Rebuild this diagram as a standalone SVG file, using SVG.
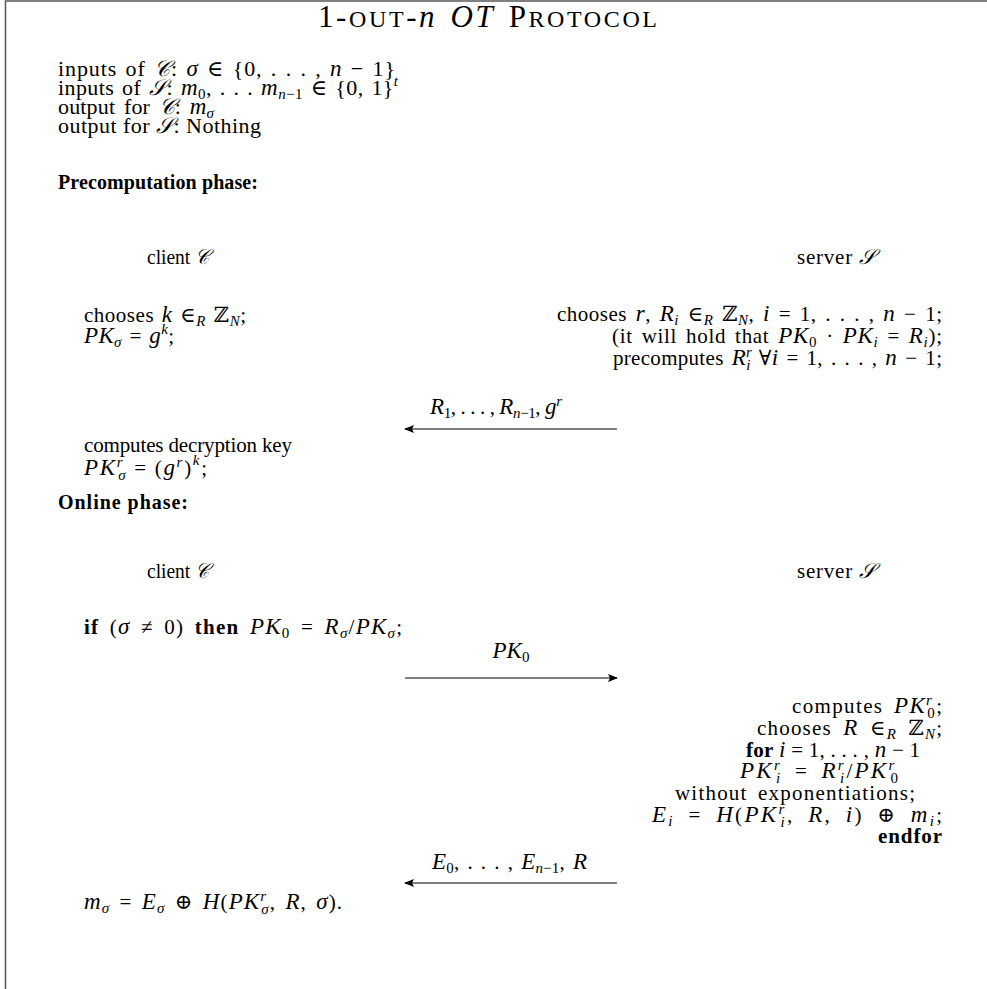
<svg xmlns="http://www.w3.org/2000/svg" width="987" height="989" viewBox="0 0 987 989">
<style>
text{font-family:"Liberation Serif","DejaVu Serif",serif;font-size:21px;fill:#000}
.big{font-size:22px}
.i{font-style:italic;font-size:23px}
.big .i{font-size:23px}
.b{font-weight:bold}
.h{font-weight:bold;font-size:20px}
.c{font-style:italic}
.sb{font-size:15px;font-style:italic}
.sn{font-size:15px}
.sc{font-size:24px}
.frame{stroke:#555;stroke-width:1.5;fill:none}
.arr{stroke:#000;stroke-width:1.2;fill:none}
</style>
<defs>
<marker id="ah" viewBox="0 0 10 8" refX="9" refY="4" markerWidth="10" markerHeight="8" markerUnits="userSpaceOnUse" orient="auto">
<path d="M0,0 L10,4 L0,8 L2,4 Z" fill="#000"/>
</marker>
</defs>
<rect width="987" height="989" fill="#fff"/>
<path class="frame" d="M5.5,989 V1 H987"/>

<g id="title">
<text x="318" y="27" textLength="339" lengthAdjust="spacing" style="font-size:31px;word-spacing:3px">1-<tspan class="sc">OUT</tspan>-<tspan style="font-style:italic">n</tspan> <tspan style="font-style:italic">OT</tspan> P<tspan class="sc">ROTOCOL</tspan></text>
</g>

<g id="inputs">
<text class="big" x="58" y="76" textLength="337" lengthAdjust="spacing" style="word-spacing:2px">inputs of <tspan class="c">𝒞</tspan>: <tspan class="i">σ</tspan> ∈ {0, . . . , <tspan class="i">n</tspan> − 1}</text>
<text class="big" x="58" y="95" textLength="340" lengthAdjust="spacing" style="word-spacing:2px">inputs of <tspan class="c">𝒮</tspan>: <tspan class="i">m</tspan><tspan class="sn" baseline-shift="-4">0</tspan>, . . . <tspan class="i">m</tspan><tspan class="sb" baseline-shift="-4">n</tspan><tspan class="sn" baseline-shift="-4">−1</tspan> ∈ {0, 1}<tspan class="sb" baseline-shift="9">t</tspan></text>
<text class="big" x="58" y="114" textLength="156" lengthAdjust="spacing" style="word-spacing:3px">output for <tspan class="c">𝒞</tspan>: <tspan class="i">m</tspan><tspan class="sb" baseline-shift="-4">σ</tspan></text>
<text class="big" x="58" y="133" textLength="203" lengthAdjust="spacing">output for <tspan class="c">𝒮</tspan>: Nothing</text>
</g>

<g id="precomp-label">
<text class="h" x="58" y="189" textLength="200" lengthAdjust="spacing">Precomputation phase:</text>
</g>

<g id="pre-client">
<text x="147" y="264" textLength="62" lengthAdjust="spacingAndGlyphs">client <tspan class="c">𝒞</tspan></text>
<text x="84" y="322" textLength="162" lengthAdjust="spacing" style="word-spacing:2px">chooses <tspan class="i">k</tspan> ∈<tspan class="sb" baseline-shift="-4">R</tspan> ℤ<tspan class="sb" baseline-shift="-4">N</tspan>;</text>
<text x="84" y="343" textLength="90" lengthAdjust="spacing" style="word-spacing:2px"><tspan class="i">PK</tspan><tspan class="sb" baseline-shift="-4">σ</tspan> = <tspan class="i">g</tspan><tspan class="sb" baseline-shift="9">k</tspan>;</text>
<text x="84" y="452" textLength="208" lengthAdjust="spacing">computes decryption key</text>
<text x="84" y="475" textLength="123" lengthAdjust="spacing"><tspan class="i">PK</tspan><tspan class="sb" baseline-shift="8">r</tspan><tspan class="sb" baseline-shift="-5" dx="-6">σ</tspan> = (<tspan class="i">g</tspan><tspan class="sb" baseline-shift="8">r</tspan>)<tspan class="sb" baseline-shift="10">k</tspan>;</text>
</g>

<g id="pre-server">
<text x="797" y="264" textLength="78" lengthAdjust="spacing">server <tspan class="c">𝒮</tspan></text>
<text x="557" y="321" textLength="385" lengthAdjust="spacing" style="word-spacing:3px">chooses <tspan class="i">r</tspan>, <tspan class="i">R</tspan><tspan class="sb" baseline-shift="-4">i</tspan> ∈<tspan class="sb" baseline-shift="-4">R</tspan> ℤ<tspan class="sb" baseline-shift="-4">N</tspan>,  <tspan class="i">i</tspan> = 1, . . . , <tspan class="i">n</tspan> − 1;</text>
<text x="612" y="343" textLength="330" lengthAdjust="spacing" style="word-spacing:3px">(it will hold that <tspan class="i">PK</tspan><tspan class="sn" baseline-shift="-4">0</tspan> · <tspan class="i">PK</tspan><tspan class="sb" baseline-shift="-4">i</tspan> = <tspan class="i">R</tspan><tspan class="sb" baseline-shift="-4">i</tspan>);</text>
<text x="613" y="365" textLength="329" lengthAdjust="spacing" style="word-spacing:2.5px">precomputes <tspan class="i">R</tspan><tspan class="sb" baseline-shift="8">r</tspan><tspan class="sb" baseline-shift="-5" dx="-6">i</tspan> ∀<tspan class="i">i</tspan> = 1, . . . , <tspan class="i">n</tspan> − 1;</text>
</g>

<g id="online-label">
<text class="h" x="58" y="509" textLength="130" lengthAdjust="spacing">Online phase:</text>
</g>

<g id="on-client">
<text x="147" y="578" textLength="62" lengthAdjust="spacingAndGlyphs">client <tspan class="c">𝒞</tspan></text>
<text x="84" y="634" textLength="318" lengthAdjust="spacing" style="word-spacing:4px"><tspan class="b">if</tspan> (<tspan class="i">σ</tspan> ≠ 0) <tspan class="b">then</tspan> <tspan class="i">PK</tspan><tspan class="sn" baseline-shift="-4">0</tspan> = <tspan class="i">R</tspan><tspan class="sb" baseline-shift="-4">σ</tspan>/<tspan class="i">PK</tspan><tspan class="sb" baseline-shift="-4">σ</tspan>;</text>
<text x="84" y="909" textLength="258" lengthAdjust="spacing" style="word-spacing:3px"><tspan class="i">m</tspan><tspan class="sb" baseline-shift="-4">σ</tspan> = <tspan class="i">E</tspan><tspan class="sb" baseline-shift="-4">σ</tspan> ⊕ <tspan class="i">H</tspan>(<tspan class="i">PK</tspan><tspan class="sb" baseline-shift="8">r</tspan><tspan class="sb" baseline-shift="-5" dx="-6">σ</tspan>, <tspan class="i">R</tspan>, <tspan class="i">σ</tspan>).</text>
</g>

<g id="on-server">
<text x="797" y="578" textLength="78" lengthAdjust="spacing">server <tspan class="c">𝒮</tspan></text>
<text x="792" y="713" textLength="150" lengthAdjust="spacing" style="word-spacing:4px">computes <tspan class="i">PK</tspan><tspan class="sb" baseline-shift="8">r</tspan><tspan class="sn" baseline-shift="-5" dx="-6">0</tspan>;</text>
<text x="757" y="735" textLength="185" lengthAdjust="spacing" style="word-spacing:5px">chooses <tspan class="i">R</tspan> ∈<tspan class="sb" baseline-shift="-4">R</tspan> ℤ<tspan class="sb" baseline-shift="-4">N</tspan>;</text>
<text x="746" y="757" textLength="174" lengthAdjust="spacing"><tspan class="b">for</tspan> <tspan class="i">i</tspan> = 1, . . . , <tspan class="i">n</tspan> − 1</text>
<text x="740" y="778" textLength="158" lengthAdjust="spacing" style="word-spacing:5px"><tspan class="i">PK</tspan><tspan class="sb" baseline-shift="8">r</tspan><tspan class="sb" baseline-shift="-5" dx="-6">i</tspan> = <tspan class="i">R</tspan><tspan class="sb" baseline-shift="8">r</tspan><tspan class="sb" baseline-shift="-5" dx="-6">i</tspan>/<tspan class="i">PK</tspan><tspan class="sb" baseline-shift="8">r</tspan><tspan class="sn" baseline-shift="-5" dx="-6">0</tspan></text>
<text x="675" y="800" textLength="240" lengthAdjust="spacing" style="word-spacing:4px">without exponentiations;</text>
<text x="652" y="822" textLength="290" lengthAdjust="spacing" style="word-spacing:6px"><tspan class="i">E</tspan><tspan class="sb" baseline-shift="-4">i</tspan> = <tspan class="i">H</tspan>(<tspan class="i">PK</tspan><tspan class="sb" baseline-shift="8">r</tspan><tspan class="sb" baseline-shift="-5" dx="-6">i</tspan>, <tspan class="i">R</tspan>, <tspan class="i">i</tspan>) ⊕ <tspan class="i">m</tspan><tspan class="sb" baseline-shift="-4">i</tspan>;</text>
<text class="b" x="878" y="843" textLength="64" lengthAdjust="spacing">endfor</text>
</g>

<g id="connectors">
<path class="arr" d="M617,429 H405" marker-end="url(#ah)"/>
<text x="430" y="414" textLength="132" lengthAdjust="spacing"><tspan class="i">R</tspan><tspan class="sn" baseline-shift="-4">1</tspan>, . . . , <tspan class="i">R</tspan><tspan class="sb" baseline-shift="-4">n</tspan><tspan class="sn" baseline-shift="-4">−1</tspan>, <tspan class="i">g</tspan><tspan class="sb" baseline-shift="8">r</tspan></text>
<path class="arr" d="M405,678 H617" marker-end="url(#ah)"/>
<text x="511" y="658" text-anchor="middle"><tspan class="i">PK</tspan><tspan class="sn" baseline-shift="-4">0</tspan></text>
<path class="arr" d="M617,883 H405" marker-end="url(#ah)"/>
<text x="432" y="869" textLength="155" lengthAdjust="spacing" style="word-spacing:2.5px"><tspan class="i">E</tspan><tspan class="sn" baseline-shift="-4">0</tspan>, . . . , <tspan class="i">E</tspan><tspan class="sb" baseline-shift="-4">n</tspan><tspan class="sn" baseline-shift="-4">−1</tspan>, <tspan class="i">R</tspan></text>
</g>
</svg>
